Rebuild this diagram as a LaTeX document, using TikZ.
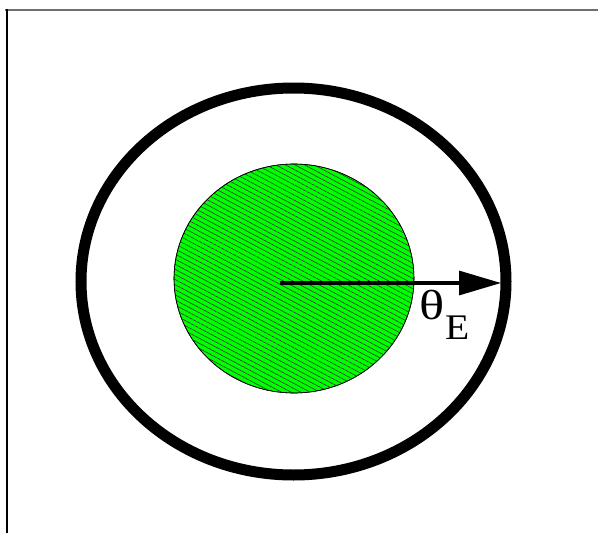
\documentclass[tikz,border=0pt]{standalone}
\usepackage{fontspec}
\setmainfont{Liberation Serif}
\usetikzlibrary{arrows.meta,patterns.meta}
\definecolor{hgreen}{RGB}{0,255,0}
\definecolor{framegray}{RGB}{110,110,110}
\begin{document}
\begin{tikzpicture}[x=1pt,y=-1pt,
  ring/.style={line width=11pt,draw=black},
  core/.style={draw=black,line width=0.6pt,fill=hgreen},
  hatch/.style={pattern={Lines[angle=-28,distance=4.5pt,line width=0.6pt]},pattern color=black!80},
  radius arrow/.style={line width=3.2pt,-{Triangle[length=42pt,width=24pt]}}]
\useasboundingbox (0,0) rectangle (598,533);
\draw[framegray,line width=2.5pt] (5,10) -- (598,10);
\draw[black,line width=2pt] (6.5,9) -- (6.5,533);
\draw[ring] (293.5,281.5) ellipse [x radius=212.5, y radius=193.5];
\draw[core] (294,278.5) ellipse [x radius=120, y radius=114.5];
\path[hatch] (294,278.5) ellipse [x radius=120, y radius=114.5];
\draw[black,line width=0.6pt] (294,278.5) ellipse [x radius=120, y radius=114.5];
\coordinate (c) at (280,283);
\coordinate (tip) at (501,283);
\draw[radius arrow] (c) -- (tip);
\node[anchor=base west,inner sep=0pt,xscale=1.25,font=\fontsize{42}{42}\selectfont] (th) at (419,319) {θ};
\node[anchor=base west,inner sep=0pt,xscale=1.1,font=\fontsize{36}{36}\selectfont] (E) at (445,339) {E};
\end{tikzpicture}
\end{document}
